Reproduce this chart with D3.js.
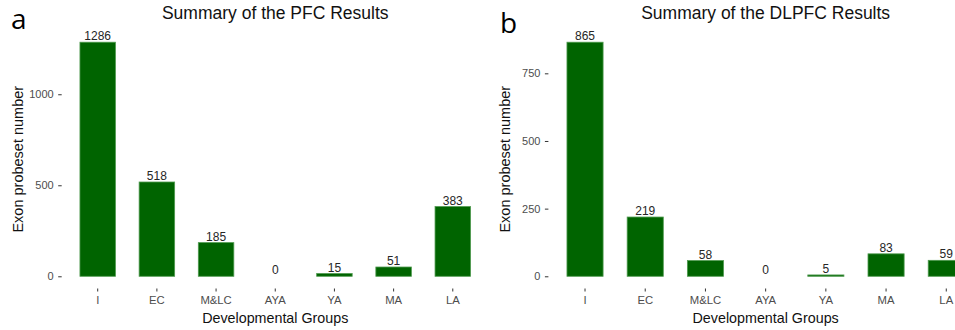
<!DOCTYPE html>
<html>
<head>
<meta charset="utf-8">
<script src="https://cdn.jsdelivr.net/npm/d3@7"></script>
<style>
  html, body { margin: 0; padding: 0; background: #fff; }
  svg { display: block; font-family: "Liberation Sans", Arial, sans-serif; }
</style>
</head>
<body>
<svg id="chart" width="955" height="330"></svg>
<script>
// Developmental groups on the x axis
const groups = ["I", "EC", "M&LC", "AYA", "YA", "MA", "LA"];

// Exon probeset counts per group
const pfcCounts   = [1286, 518, 185, 0, 15, 51, 383];
const dlpfcCounts = [865, 219, 58, 0, 5, 83, 59];

// Y axis tick values
const pfcTicks   = [0, 500, 1000];
const dlpfcTicks = [0, 250, 500, 750];

const panels = [
  { tag: "a", title: "Summary of the PFC Results",   values: pfcCounts,   ticks: pfcTicks,
    left: 62.2, right: 488.3, tagX: 11, tagY: 29 },
  { tag: "b", title: "Summary of the DLPFC Results", values: dlpfcCounts, ticks: dlpfcTicks,
    left: 548.9, right: 982.4, tagX: 500, tagY: 33 }
];

const plotTop = 30.5, plotBottom = 288;
const svg = d3.select("#chart");

panels.forEach(p => {
  const g = svg.append("g");
  const maxV = d3.max(p.values);
  const pad = maxV * 0.05;

  const x = d3.scaleBand()
    .domain(groups)
    .range([p.left, p.right])
    .paddingInner(0.4)
    .paddingOuter(0.3);

  const y = d3.scaleLinear()
    .domain([-pad, maxV + pad])
    .range([plotBottom, plotTop]);

  const rows = groups.map((k, i) => ({ k, v: p.values[i] }));

  // bars
  g.selectAll("rect.bar")
    .data(rows)
    .join("rect")
    .attr("class", "bar")
    .attr("x", d => x(d.k))
    .attr("width", x.bandwidth())
    .attr("y", d => y(d.v))
    .attr("height", d => y(0) - y(d.v))
    .attr("fill", "#006400")
    .attr("stroke", d => d.v > 0 ? "#4f9a4f" : "none")
    .attr("stroke-width", 0.8);

  // value labels
  g.selectAll("text.val")
    .data(rows)
    .join("text")
    .attr("class", "val")
    .attr("x", d => x(d.k) + x.bandwidth() / 2)
    .attr("y", d => y(d.v) - 2)
    .attr("text-anchor", "middle")
    .style("font-size", "12px")
    .attr("fill", "#262626")
    .text(d => d.v);

  // y axis
  const yAxis = d3.axisLeft(y).tickValues(p.ticks).tickFormat(d3.format("d"))
    .tickSize(3.5).tickPadding(4.5);
  const ya = g.append("g").attr("transform", `translate(${p.left - 0.5},0)`).call(yAxis);
  ya.select(".domain").remove();
  ya.selectAll(".tick line").attr("stroke", "#333").attr("stroke-width", 1);
  ya.selectAll(".tick text")
    .style("font-size", "11px")
    .style("font-family", "'Liberation Sans', Arial, sans-serif")
    .attr("fill", "#4d4d4d");

  // x axis
  const xAxis = d3.axisBottom(x).tickSize(3).tickPadding(4);
  const xa = g.append("g").attr("transform", `translate(0,${plotBottom + 0.5})`).call(xAxis);
  xa.select(".domain").remove();
  xa.selectAll(".tick line").attr("stroke", "#333").attr("stroke-width", 1);
  xa.selectAll(".tick text")
    .style("font-size", "11.3px")
    .style("font-family", "'Liberation Sans', Arial, sans-serif")
    .attr("fill", "#4d4d4d");

  const cx = (p.left + p.right) / 2;

  // title
  g.append("text")
    .attr("x", cx).attr("y", 19)
    .attr("text-anchor", "middle")
    .style("font-size", "17.5px")
    .attr("fill", "#111")
    .text(p.title);

  // x axis title
  g.append("text")
    .attr("x", cx).attr("y", 323)
    .attr("text-anchor", "middle")
    .style("font-size", "14.3px")
    .attr("fill", "#111")
    .text("Developmental Groups");

  // y axis title
  g.append("text")
    .attr("transform", `translate(${p.left - 39},${(plotTop + plotBottom) / 2}) rotate(-90)`)
    .attr("text-anchor", "middle")
    .style("font-size", "14.5px")
    .attr("fill", "#111")
    .text("Exon probeset number");

  // panel tag
  g.append("text")
    .attr("x", p.tagX).attr("y", p.tagY)
    .style("font-family", "'Open Sans', 'Noto Sans', sans-serif")
    .style("font-size", "28px")
    .attr("fill", "#000")
    .text(p.tag);
});
</script>
</body>
</html>
